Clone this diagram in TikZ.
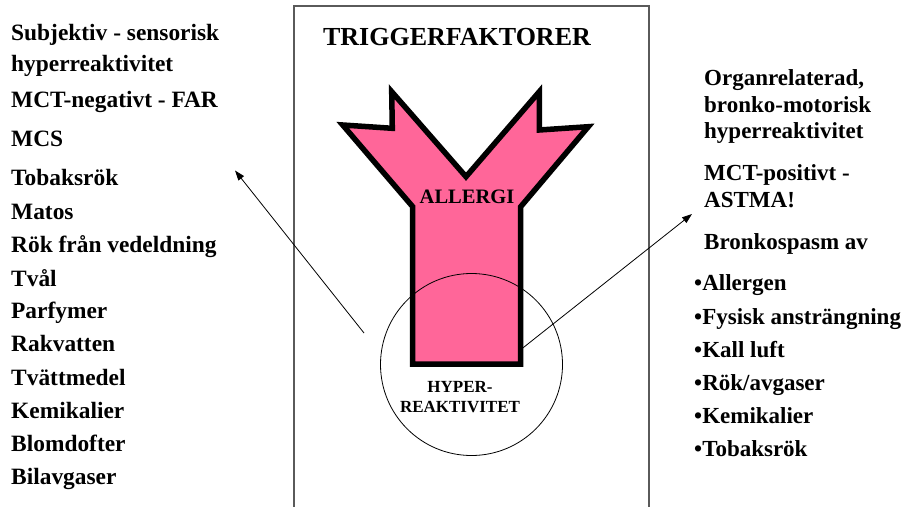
\documentclass[tikz,border=0pt]{standalone}
\usepackage{fontspec}
\setmainfont{Liberation Serif}
\usetikzlibrary{arrows.meta}
\definecolor{ypink}{RGB}{255,102,153}
\definecolor{boxgray}{RGB}{90,90,90}
\tikzset{
  lefttext/.style={anchor=base west, inner sep=0pt, font=\bfseries\fontsize{23.4}{27}\selectfont},
  righttext/.style={anchor=base west, inner sep=0pt, font=\bfseries\fontsize{23}{27}\selectfont},
  titletext/.style={anchor=base, inner sep=0pt, font=\bfseries\fontsize{26}{30}\selectfont},
  ytext/.style={anchor=base, inner sep=0pt, font=\bfseries\fontsize{20.5}{24}\selectfont},
  circtext/.style={anchor=base, inner sep=0pt, font=\bfseries\fontsize{17}{20}\selectfont},
  ybody/.style={fill=ypink, draw=black, line width=5.5pt, line join=miter},
  framebox/.style={draw=boxgray, line width=1.2pt},
  pointer/.style={draw=black, line width=0.8pt, -{Triangle[length=10pt,width=7pt]}},
}
\begin{document}
\begin{tikzpicture}[x=1pt, y=-1pt]
\useasboundingbox (0,0) rectangle (912,506);

% frame around the central column
\draw[framebox] (294,510) -- (294,6) -- (649,6) -- (649,510);

\node[titletext] (title) at (457,45) {TRIGGERFAKTORER};

% Y-shaped antibody
\path[ybody] (342.7,125) -- (392.3,128.3) -- (391.7,91.7) -- (466,176.7)
  -- (539.3,91.7) -- (539.3,130) -- (588.3,126.7) -- (520.7,206.7)
  -- (520.7,364) -- (412.7,364) -- (412.7,206.7) -- cycle;
\node[ytext] (allergi) at (467,203.5) {ALLERGI};

% hyperreactivity circle
\node[draw=black, line width=0.8pt, circle, minimum size=182pt, inner sep=0pt] (hyper) at (471.5,364.5) {};
\node[circtext] (hyp1) at (460,392) {HYPER-};
\node[circtext] (hyp2) at (460,412) {REAKTIVITET};

% left column
\node[lefttext] (l1) at (11,40) {Subjektiv - sensorisk};
\node[lefttext] (l2) at (11,71) {hyperreaktivitet};
\node[lefttext] (l3) at (11,107) {MCT-negativt - FAR};
\node[lefttext] (l4) at (11,146) {MCS};
\node[lefttext] (l5) at (11,185.5) {Tobaksrök};
\node[lefttext] (l6) at (11,219.5) {Matos};
\node[lefttext] (l7) at (11,252.5) {Rök från vedeldning};
\node[lefttext] (l8) at (11,286) {Tvål};
\node[lefttext] (l9) at (11,318.5) {Parfymer};
\node[lefttext] (l10) at (11,351.5) {Rakvatten};
\node[lefttext] (l11) at (11,385) {Tvättmedel};
\node[lefttext] (l12) at (11,418.5) {Kemikalier};
\node[lefttext] (l13) at (11,451) {Blomdofter};
\node[lefttext] (l14) at (11,484.5) {Bilavgaser};

% right column
\node[righttext] (r1) at (704,85) {Organrelaterad,};
\node[righttext] (r2) at (704,112) {bronko-motorisk};
\node[righttext] (r3) at (704,138.5) {hyperreaktivitet};
\node[righttext] (r4) at (704,180.5) {MCT-positivt -};
\node[righttext] (r5) at (704,207) {ASTMA!};
\node[righttext] (r6) at (704,249.5) {Bronkospasm av};
\node[righttext] (r7) at (694,290.5) {•Allergen};
\node[righttext] (r8) at (694,324) {•Fysisk ansträngning};
\node[righttext] (r9) at (694,357.5) {•Kall luft};
\node[righttext] (r10) at (694,390.5) {•Rök/avgaser};
\node[righttext] (r11) at (694,423.5) {•Kemikalier};
\node[righttext] (r12) at (694,456.5) {•Tobaksrök};

% pointers from the reaction site to each column
\coordinate (lstart) at (364,333);
\coordinate (ltip) at (235,170.5);
\coordinate (rstart) at (521.5,349);
\coordinate (rtip) at (692,214);
\draw[pointer] (lstart) -- (ltip);
\draw[pointer] (rstart) -- (rtip);
\end{tikzpicture}
\end{document}
